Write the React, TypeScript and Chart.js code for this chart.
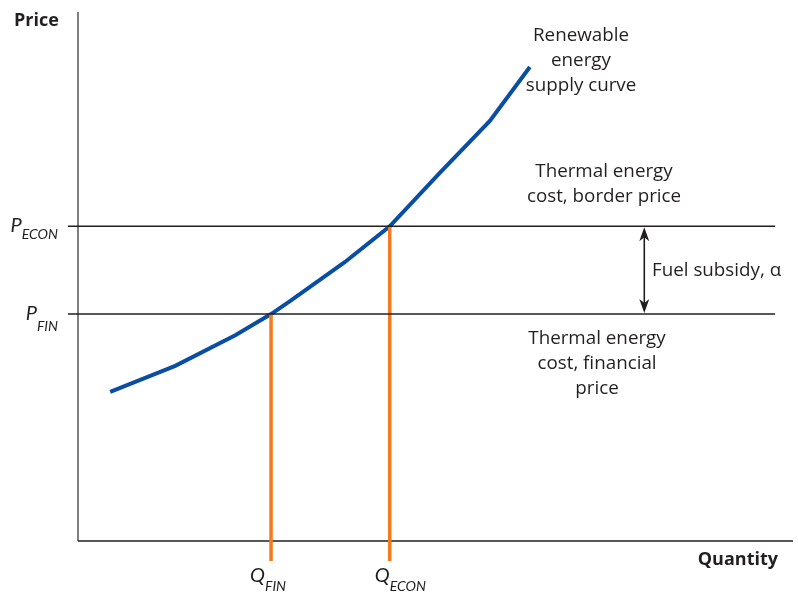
import React, { useEffect, useRef } from "react";
import { Chart, registerables } from "chart.js";
Chart.register(...registerables);

// Renewable energy supply curve (abstract units, 0-100)
const supplyQ = [4.5, 13.6, 22.0, 27.0, 29.7, 37.3, 43.6, 50.6, 57.6, 63.2];
const supplyP = [28.2, 33.1, 38.9, 42.9, 45.4, 52.7, 59.5, 69.6, 79.4, 89.6];
// price levels: economic (border) and financial
const priceNames = ["ECON", "FIN"];
const priceLevels = [59.5, 42.9];
// quantities where the supply curve crosses each price
const quantityNames = ["ECON", "FIN"];
const quantityLevels = [43.6, 27.0];
const lineSpan = [-1.4, 97.5];
const dropBottom = -3.8;
const subsidyQ = 79.2;

const TEXT = "#231f20";
const FONT = "'Open Sans', sans-serif";
const SUBFONT = "Lato, sans-serif";

function drawSub(ctx: CanvasRenderingContext2D, main: string, sub: string, x: number, y: number, subDy: number, align: "right" | "left") {
  ctx.save();
  ctx.fillStyle = TEXT;
  ctx.textBaseline = "alphabetic";
  ctx.textAlign = "left";
  ctx.font = `italic 20px ${SUBFONT}`;
  const w1 = ctx.measureText(main).width;
  ctx.font = `italic 14px ${SUBFONT}`;
  const w2 = ctx.measureText(sub).width;
  const x0 = align === "right" ? x - w1 - w2 : x;
  ctx.font = `italic 20px ${SUBFONT}`;
  ctx.fillText(main, x0, y);
  ctx.font = `italic 14px ${SUBFONT}`;
  ctx.fillText(sub, x0 + w1, y + subDy);
  ctx.restore();
}

const annot = {
  id: "annot",
  beforeDatasetsDraw(chart: any) {
    const { ctx, chartArea: a } = chart;
    ctx.save();
    ctx.lineWidth = 1.5;
    ctx.strokeStyle = "#555";
    ctx.beginPath();
    ctx.moveTo(a.left, a.top);
    ctx.lineTo(a.left, a.bottom);
    ctx.stroke();
    ctx.strokeStyle = TEXT;
    ctx.beginPath();
    ctx.moveTo(a.left, a.bottom);
    ctx.lineTo(a.right, a.bottom);
    ctx.stroke();
    ctx.restore();
  },
  afterDatasetsDraw(chart: any) {
    const { ctx, chartArea: a, scales } = chart;
    const xs = scales.x, ys = scales.y;
    ctx.save();
    ctx.fillStyle = TEXT;
    // axis titles
    ctx.font = `bold 18px ${FONT}`;
    ctx.textAlign = "left";
    ctx.textBaseline = "alphabetic";
    ctx.fillText("Price", 14, 26);
    ctx.textAlign = "right";
    ctx.fillText("Quantity", a.right - 15, 565);

    // multi-line labels
    ctx.font = `18.8px ${FONT}`;
    ctx.textAlign = "center";
    ctx.textBaseline = "middle";
    const lines = (arr: string[], cx: number, cy: number) =>
      arr.forEach((t, i) => ctx.fillText(t, cx, cy + i * 25));
    lines(["Renewable", "energy", "supply curve"], 581, 36);
    lines(["Thermal energy", "cost, border price"], 604, 172);
    lines(["Thermal energy", "cost, financial", "price"], 597, 339);
    ctx.textAlign = "left";
    ctx.fillText("Fuel subsidy, \u03b1", 652, 271);

    // subscript labels
    const subDyP = [13, 17];
    priceLevels.forEach((p, i) => {
      drawSub(ctx, "P", priceNames[i], a.left - 20, ys.getPixelForValue(p) + 6, subDyP[i] - 6, "right");
    });
    const offQ = [-15, -21];
    quantityLevels.forEach((q, i) => {
      drawSub(ctx, "Q", quantityNames[i], xs.getPixelForValue(q) + offQ[i], 582, 9, "left");
    });

    // double arrow
    const ax = xs.getPixelForValue(subsidyQ);
    const y1 = ys.getPixelForValue(priceLevels[0]);
    const y2 = ys.getPixelForValue(priceLevels[1]);
    ctx.strokeStyle = TEXT;
    ctx.lineWidth = 1.6;
    ctx.beginPath();
    ctx.moveTo(ax, y1 + 6);
    ctx.lineTo(ax, y2 - 6);
    ctx.stroke();
    const head = (yt: number, dir: number) => {
      ctx.beginPath();
      ctx.moveTo(ax, yt);
      ctx.lineTo(ax - 5, yt + dir * 14);
      ctx.lineTo(ax, yt + dir * 10);
      ctx.lineTo(ax + 5, yt + dir * 14);
      ctx.closePath();
      ctx.fill();
    };
    head(y1 + 1, 1);
    head(y2 - 1, -1);
    ctx.restore();
  },
};

export default function App() {
  const ref = useRef<HTMLCanvasElement>(null);
  useEffect(() => {
    document.body.style.margin = "0";
    const hLines = priceLevels.map((p) => ({
      data: lineSpan.map((x) => ({ x, y: p })),
      borderColor: TEXT,
      borderWidth: 1.5,
      pointRadius: 0,
      clip: false,
    }));
    const vLines = quantityLevels.map((q, i) => ({
      data: [{ x: q, y: priceLevels[i] }, { x: q, y: dropBottom }],
      borderColor: "#f47a20",
      borderWidth: 3.5,
      pointRadius: 0,
      clip: false,
    }));
    const chart = new Chart(ref.current!, {
      type: "line",
      data: {
        datasets: [
          ...hLines,
          ...vLines,
          {
            data: supplyQ.map((x, i) => ({ x, y: supplyP[i] })),
            borderColor: "#0a4ea3",
            borderWidth: 4,
            pointRadius: 0,
            tension: 0,
            clip: false,
          },
        ] as any,
      },
      options: {
        responsive: false,
        animation: false,
        devicePixelRatio: 1,
        layout: { padding: { left: 78, right: 5, top: 12, bottom: 55 } },
        scales: {
          x: { type: "linear", display: false, min: 0, max: 100 },
          y: { type: "linear", display: false, min: 0, max: 100 },
        },
        plugins: { legend: { display: false }, tooltip: { enabled: false } },
      },
      plugins: [annot],
    });
    return () => chart.destroy();
  }, []);
  return (
    <div style={{ position: "absolute", left: 0, top: 0, width: 798, height: 596 }}>
      <canvas ref={ref} width={798} height={596} style={{ width: 798, height: 596 }} />
    </div>
  );
}
